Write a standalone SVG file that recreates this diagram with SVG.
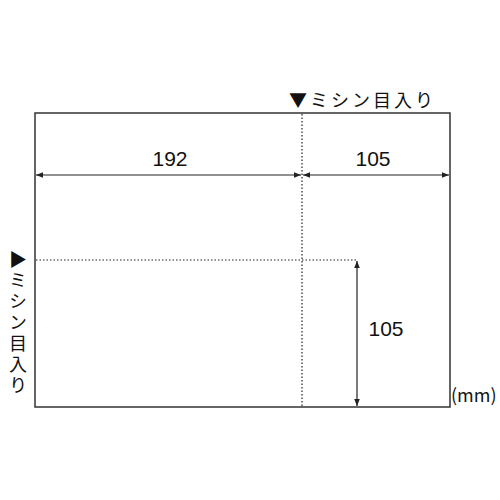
<svg xmlns="http://www.w3.org/2000/svg" width="500" height="500" viewBox="0 0 500 500">
<defs>
<marker id="ah" viewBox="0 0 10 10" refX="10" refY="5" markerWidth="7" markerHeight="7" orient="auto-start-reverse" markerUnits="userSpaceOnUse">
<path d="M0,1 L10,5 L0,9 Z" fill="#222"/>
</marker>
</defs>
<style>
.frame{fill:#fff;stroke:#333;stroke-width:1.5}
.dot{stroke:#222;stroke-width:1.2;stroke-dasharray:1.5,2}
.dim{stroke:#222;stroke-width:1.2;fill:none;marker-start:url(#ah);marker-end:url(#ah)}
.num{font-family:"Liberation Sans",Arial,sans-serif;font-size:21px;fill:#111;text-anchor:middle}
.jp{font-family:"Noto Sans CJK JP",sans-serif;font-size:18px;fill:#111}
</style>
<rect width="500" height="500" fill="#fff"/>
<g id="sheet">
<rect class="frame" x="35" y="113" width="415" height="294"/>
</g>
<g id="perforations">
<line class="dot" x1="302" y1="114" x2="302" y2="406"/>
<line class="dot" x1="36" y1="260" x2="356" y2="260"/>
</g>
<g id="connectors">
<line class="dim" x1="36" y1="175" x2="301" y2="175"/>
<line class="dim" x1="303" y1="175" x2="449" y2="175"/>
<line class="dim" x1="357" y1="261" x2="357" y2="406"/>
</g>
<g id="labels">
<text class="num" x="170" y="166">192</text>
<text class="num" x="373" y="166">105</text>
<text class="num" x="386" y="336">105</text>
<text class="jp" x="289" y="107" letter-spacing="3">▼ミシン目入り</text>
<text class="jp" x="18" y="250" writing-mode="vertical-rl" letter-spacing="3" style="text-orientation:upright">▶ミシン目入り</text>
<text class="jp" x="451" y="402" font-size="17">(mm)</text>
</g>
</svg>
